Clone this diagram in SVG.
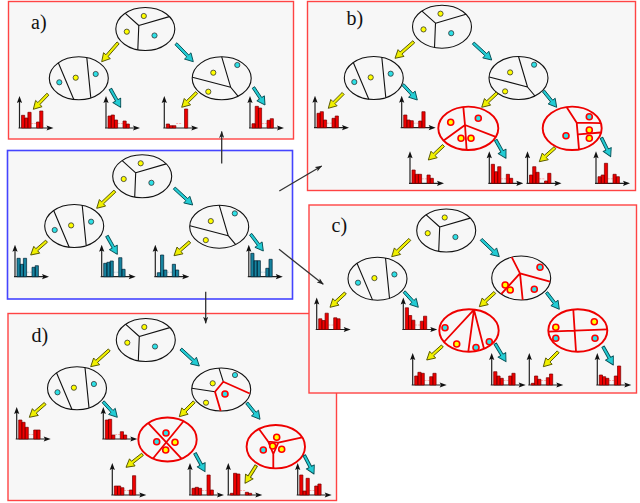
<svg xmlns="http://www.w3.org/2000/svg" xmlns:xlink="http://www.w3.org/1999/xlink" width="640" height="503" viewBox="0 0 640 503">
<style>
.pn{fill:#f7f7f7;stroke:#f44;stroke-width:1.4}
.pb{stroke:#44f;stroke-width:1.6}
.lbl{font-family:"Liberation Serif",serif;font-size:20px;fill:#111}
.el{fill:none;stroke:#111;stroke-width:1.1}
.er{fill:none;stroke:#e00;stroke-width:1.9}
.ln{fill:none;stroke:#111;stroke-width:1.1}
.lr{fill:none;stroke:#e00;stroke-width:1.8;stroke-linejoin:round}
.dy{fill:#ff0;stroke:#333;stroke-width:0.8}
.dc{fill:#2de0e6;stroke:#333;stroke-width:0.8}
.ry{fill:#ff0;stroke:#f00;stroke-width:1.6}
.rc{fill:#2de0e6;stroke:#f00;stroke-width:1.6}
.br{fill:#e00;stroke:#700;stroke-width:0.7}
.bb{fill:#16839f;stroke:#023;stroke-width:0.7}
.ax{fill:none;stroke:#222;stroke-width:1.2}
.ah{fill:#111}
.mr{stroke:#f99;stroke-width:0.8;stroke-dasharray:2 1}
.mb{stroke:#9cd;stroke-width:0.8;stroke-dasharray:2 1}
.aY{fill:#f0f000;stroke:#555500;stroke-width:0.9;stroke-linejoin:round}
.aC{fill:#22ccd4;stroke:#074f55;stroke-width:0.9;stroke-linejoin:round}
.cn{fill:none;stroke:#333;stroke-width:1.3}
</style>
<defs>
  <marker id="mk" viewBox="0 0 8 6" refX="7.5" refY="3" markerWidth="7" markerHeight="5.5" markerUnits="userSpaceOnUse" orient="auto">
    <path d="M0 0L8 3L0 6L2 3Z" fill="#222"/>
  </marker>
  <!-- fat tree arrows, tip at origin, pointing along +x -->
  <path id="ayl" class="aY" d="M0 0L-8-4.5L-8-1.4L-25-1.4L-25 1.4L-8 1.4L-8 4.5Z"/>
  <path id="acl" class="aC" d="M0 0L-8-4.5L-8-1.4L-25-1.4L-25 1.4L-8 1.4L-8 4.5Z"/>
  <path id="ays" class="aY" d="M0 0L-8-4.5L-8-1.4L-21-1.4L-21 1.4L-8 1.4L-8 4.5Z"/>
  <path id="acs" class="aC" d="M0 0L-8-4.5L-8-1.4L-21-1.4L-21 1.4L-8 1.4L-8 4.5Z"/>
  <!-- histogram axes -->
  <g id="axes">
    <path class="ax" d="M0 0V-27M-1 0H29"/>
    <path class="ah" d="M0-32L-2.6-25L0-26.3L2.6-25ZM34 0L27-2.6L28.3 0L27 2.6Z"/>
  </g>
  <g id="axR"><path class="mr" d="M11.8-4.5H17"/><use href="#axes"/></g>
  <g id="axB"><path class="mb" d="M11.8-4.5H17"/><use href="#axes"/></g>
  <!-- first-level nodes -->
  <g id="nRoot">
    <ellipse class="el" rx="29.5" ry="21.5"/>
    <path class="ln" d="M-6.5-3.5L-20-15.6M-6.5-3.5L24-12.4M-6.5-3.5L-7.5 20.8"/>
    <circle class="dy" cx="-1.5" cy="-13" r="2.6"/>
    <circle class="dy" cx="-18.5" cy="2.7" r="2.6"/>
    <circle class="dc" cx="9.2" cy="6.5" r="2.6"/>
  </g>
  <g id="nLeft">
    <ellipse class="el" rx="29.5" ry="21.5"/>
    <path class="ln" d="M-20.5-15.5L-5 21.2M8-20.7L12 19.6"/>
    <circle class="dc" cx="-19.5" cy="4" r="2.6"/>
    <circle class="dy" cx="-3.1" cy="-0.6" r="2.6"/>
    <circle class="dc" cx="16.9" cy="-4.3" r="2.6"/>
  </g>
  <g id="nRight">
    <ellipse class="el" rx="29.5" ry="21.5"/>
    <path class="ln" d="M-29.3-1L9 9M0-21.5L9 9L16.5 18"/>
    <circle class="dy" cx="-8.4" cy="-5.6" r="2.6"/>
    <circle class="dc" cx="15.6" cy="-13.3" r="2.6"/>
    <circle class="dy" cx="-13.4" cy="13.4" r="2.6"/>
  </g>
</defs>

<!-- panel a -->
<g id="panel-a">
  <rect class="pn" x="8.5" y="1.5" width="285" height="137.5"/>
  <text class="lbl" x="31" y="29">a)</text>
  <g transform="translate(145.3 29)">
    <g id="a-root"><use href="#nRoot"/></g>
    <g id="a-left" transform="translate(-66.5 49.3)"><use href="#nLeft"/></g>
    <g id="a-right" transform="translate(76.4 49.3)"><use href="#nRight"/></g>
    <g id="a-h1" transform="translate(-125.8 99)"><use href="#axR"/><path class="br" d="M2 0v-12.7h3.2v12.7zm3.2 0v-10h3.2v10zm3.2 0v-15.7h3.2v15.7zm8.6 0v-6h3.2v6zm3.2 0v-17h3.2v17z"/></g>
    <g id="a-h2" transform="translate(-39.3 99)"><use href="#axR"/><path class="br" d="M2 0v-12h3.2v12zm3.2 0v-13h3.2v13zm3.2 0v-8h3.2v8zm8.6 0v-7h3.2v7zm3.2 0v-4h3.2v4z"/></g>
    <g id="a-h3" transform="translate(19 99)"><use href="#axR"/><path class="br" d="M2 0v-4h3.2v4zm3.2 0v-2.3h3.2v2.3zm3.2 0v-2.3h3.2v2.3zm11.8 0v-19h3.2v19z"/></g>
    <g id="a-h4" transform="translate(104.7 99)"><use href="#axR"/><path class="br" d="M2 0v-4.3h3.2v4.3zm3.2 0v-21.7h3.2v21.7zm3.2 0v-20h3.2v20zm8.6 0v-7.7h3.2v7.7zm3.2 0v-9.3h3.2v9.3z"/></g>
    <g id="a-edges">
      <use href="#ayl" transform="translate(-43.6 32.7) rotate(131)"/>
      <use href="#acl" transform="translate(48 32.7) rotate(46)"/>
      <use href="#ays" transform="translate(-112 80.3) rotate(134)"/>
      <use href="#acs" transform="translate(-24.6 78.3) rotate(60.6)"/>
      <use href="#ays" transform="translate(36.4 78.3) rotate(135.6)"/>
      <use href="#acs" transform="translate(119.7 76) rotate(56.6)"/>
    </g>
  </g>
</g>

<!-- starting tree -->
<g id="panel-start">
  <rect class="pn pb" x="7.5" y="150.5" width="285" height="148.5"/>
  <g transform="translate(142.2 176.3)">
    <g id="s-root"><use href="#nRoot"/></g>
    <g id="s-left" transform="translate(-68 49.7)"><use href="#nLeft"/></g>
    <g id="s-right" transform="translate(77 50.4)"><use href="#nRight"/></g>
    <g id="s-h1" transform="translate(-127.2 100.4)"><use href="#axB"/><path class="bb" d="M2 0v-18.4h3.2v18.4zm3.2 0v-12.4h3.2v12.4zm3.2 0v-18.4h3.2v18.4zm8.6 0v-9.4h3.2v9.4zm3.2 0v-11h3.2v11z"/></g>
    <g id="s-h2" transform="translate(-40.5 100.4)"><use href="#axB"/><path class="bb" d="M2 0v-13.4h3.2v13.4zm3.2 0v-14.4h3.2v14.4zm3.2 0v-15.7h3.2v15.7zm8.6 0v-19h3.2v19zm3.2 0v-7.4h3.2v7.4z"/></g>
    <g id="s-h3" transform="translate(13.1 100.4)"><use href="#axB"/><path class="bb" d="M2 0v-4h3.2v4zm3.2 0v-21.7h3.2v21.7zm3.2 0v-6.7h3.2v6.7zm8.6 0v-12.4h3.2v12.4zm3.2 0v-6.7h3.2v6.7z"/></g>
    <g id="s-h4" transform="translate(106.6 100.4)"><use href="#axB"/><path class="bb" d="M2 0v-23.4h3.2v23.4zm3.2 0v-16h3.2v16zm3.2 0v-16h3.2v16zm8.6 0v-8.4h3.2v8.4zm3.2 0v-17.4h3.2v17.4z"/></g>
    <g id="s-edges">
      <use href="#ayl" transform="translate(-45.5 32) rotate(136.6)"/>
      <use href="#acl" transform="translate(50.5 28.7) rotate(42.5)"/>
      <use href="#ays" transform="translate(-111.5 78.7) rotate(139)"/>
      <use href="#acs" transform="translate(-24.9 78) rotate(60.5)"/>
      <use href="#ays" transform="translate(31.8 79.4) rotate(138.8)"/>
      <use href="#acs" transform="translate(121.1 74.7) rotate(53)"/>
    </g>
  </g>
</g>

<!-- panel b -->
<g id="panel-b">
  <rect class="pn" x="307.5" y="1.5" width="328" height="189"/>
  <text class="lbl" x="346.5" y="25">b)</text>
  <g transform="translate(442 26.7)">
    <g id="b-root"><use href="#nRoot"/></g>
    <g id="b-left" transform="translate(-68.2 51.3)"><use href="#nLeft"/></g>
    <g id="b-right" transform="translate(76.5 51.3)"><use href="#nRight"/></g>
    <g id="b-rl" transform="translate(26.3 101.6)">
      <ellipse class="er" rx="30" ry="21.7"/>
      <path class="lr" d="M-5-21.4L-3.3-3.3L-24.6 12.3M-3.3-3.3L27.5 8.6M-3.3-3.3L-1.7 21.6"/>
      <circle class="ry" cx="-17.6" cy="-6" r="3"/>
      <circle class="rc" cx="10" cy="-10" r="3"/>
      <circle class="ry" cx="-7.3" cy="10" r="3"/>
      <circle class="ry" cx="2.7" cy="10" r="3"/>
    </g>
    <g id="b-rr" transform="translate(130.2 101.6)">
      <ellipse class="er" rx="29.5" ry="21.7"/>
      <path class="lr" d="M-5.5-21L4.5-5.6L6.8 21M4.5-5.6L28.6-5.2M6.1 6L28.6 4.2"/>
      <circle class="rc" cx="17.1" cy="-11.6" r="3"/>
      <circle class="ry" cx="17.1" cy="1.7" r="3"/>
      <circle class="ry" cx="17.1" cy="10" r="3"/>
      <circle class="rc" cx="-6.2" cy="7.4" r="3"/>
    </g>
    <g id="b-h1" transform="translate(-127 101)"><use href="#axR"/><path class="br" d="M2 0v-14.4h3.2v14.4zm3.2 0v-16h3.2v16zm3.2 0v-7.7h3.2v7.7zm8.6 0v-9.4h3.2v9.4zm3.2 0v-11.7h3.2v11.7z"/></g>
    <g id="b-h2" transform="translate(-40.3 101)"><use href="#axR"/><path class="br" d="M2 0v-12.7h3.2v12.7zm3.2 0v-7.7h3.2v7.7zm3.2 0v-7h3.2v7zm8.6 0v-6.7h3.2v6.7zm3.2 0v-16h3.2v16z"/></g>
    <g id="b-h3" transform="translate(-32 156.6)"><use href="#axR"/><path class="br" d="M2 0v-13.3h3.2v13.3zm3.2 0v-9h3.2v9zm3.2 0v-9h3.2v9zm8.6 0v-8.3h3.2v8.3zm3.2 0v-5h3.2v5z"/></g>
    <g id="b-h4" transform="translate(47.3 156.6)"><use href="#axR"/><path class="br" d="M2 0v-19h3.2v19zm3.2 0v-11.6h3.2v11.6zm3.2 0v-16.6h3.2v16.6zm8.6 0v-9h3.2v9zm3.2 0v-5h3.2v5z"/></g>
    <g id="b-h5" transform="translate(85.5 156.6)"><use href="#axR"/><path class="br" d="M2 0v-8.3h3.2v8.3zm3.2 0v-16.6h3.2v16.6zm3.2 0v-11h3.2v11zm8.6 0v-2.3h3.2v2.3zm3.2 0v-10h3.2v10z"/></g>
    <g id="b-h6" transform="translate(154 156.6)"><use href="#axR"/><path class="br" d="M2 0v-6.6h3.2v6.6zm3.2 0v-8.3h3.2v8.3zm3.2 0v-20h3.2v20zm8.6 0v-9h3.2v9zm3.2 0v-6.6h3.2v6.6z"/></g>
    <g id="b-edges">
      <use href="#ayl" transform="translate(-47 31.6) rotate(138.7)"/>
      <use href="#acl" transform="translate(49.7 33.3) rotate(42.5)"/>
      <use href="#ays" transform="translate(-113.7 81.6) rotate(135)"/>
      <use href="#acs" transform="translate(-24.7 73.3) rotate(47)"/>
      <use href="#ays" transform="translate(39.7 80.6) rotate(137)"/>
      <use href="#acs" transform="translate(114.7 80.6) rotate(51)"/>
      <use href="#ays" transform="translate(-13.7 133.3) rotate(136.4)"/>
      <use href="#acs" transform="translate(64 131.6) rotate(60.7)"/>
      <use href="#ays" transform="translate(97.3 135) rotate(138.3)"/>
      <use href="#acs" transform="translate(168.7 130) rotate(63.9)"/>
    </g>
  </g>
</g>

<!-- panel d (drawn before c, which overlaps its corner) -->
<g id="panel-d">
  <rect class="pn" x="8" y="313.5" width="328.5" height="187"/>
  <text class="lbl" x="31.5" y="341.5">d)</text>
  <g transform="translate(145.8 340)">
    <g id="d-root"><use href="#nRoot"/></g>
    <g id="d-left" transform="translate(-68.8 48.3)"><use href="#nLeft"/></g>
    <g id="d-right" transform="translate(75.4 49.5)">
      <ellipse class="el" rx="29.5" ry="21.5"/>
      <path class="ln" d="M-2.2-21.4L2.1-7.8M-29.4-1.2L-6.2 2.2"/>
      <path class="lr" d="M28.5 4L2.1-7.8L-6.2 2.2L-0.5 21.5"/>
      <circle class="rc" cx="3.8" cy="4.5" r="3"/>
      <circle class="dc" cx="13.8" cy="-14.5" r="2.6"/>
      <circle class="dy" cx="-8.5" cy="-6.2" r="2.6"/>
      <circle class="dy" cx="-15.2" cy="13.2" r="2.6"/>
    </g>
    <g id="d-rl" transform="translate(21.7 99.5)">
      <ellipse class="er" rx="29.2" ry="22"/>
      <path class="lr" d="M-19.2-16.3L14 19.2M16-18.3L-14.5 19"/>
      <circle class="rc" cx="-1.5" cy="-6.5" r="3"/>
      <circle class="rc" cx="-10.8" cy="2.2" r="3"/>
      <circle class="ry" cx="7.5" cy="2.8" r="3"/>
      <circle class="ry" cx="-1.8" cy="10.5" r="3"/>
    </g>
    <g id="d-rr" transform="translate(130 106.7)">
      <ellipse class="er" rx="29.2" ry="21.7"/>
      <path class="lr" d="M-16.8-17.7L-7.5-5L2.5-4L26.5-9.3M2.5-4L-2.5 7.3L-7.5-5M-2.5 7.3L-2.5 21.6"/>
      <circle class="ry" cx="0.9" cy="-9.4" r="3"/>
      <circle class="ry" cx="-3.1" cy="-0.7" r="3"/>
      <circle class="ry" cx="5.9" cy="2.6" r="3"/>
      <circle class="rc" cx="-12.5" cy="3.3" r="3"/>
    </g>
    <g id="d-h1" transform="translate(-129.1 99)"><use href="#axR"/><path class="br" d="M2 0v-19h3.2v19zm3.2 0v-16.7h3.2v16.7zm3.2 0v-11.7h3.2v11.7zm8.6 0v-9h3.2v9zm3.2 0v-9h3.2v9z"/></g>
    <g id="d-h2" transform="translate(-42.5 99)"><use href="#axR"/><path class="br" d="M2 0v-19h3.2v19zm3.2 0v-19.7h3.2v19.7zm3.2 0v-4h3.2v4zm8.6 0v-7.3h3.2v7.3zm3.2 0v-4h3.2v4z"/></g>
    <g id="d-h3" transform="translate(-33.5 155)"><use href="#axR"/><path class="br" d="M2 0v-9h3.2v9zm3.2 0v-9h3.2v9zm3.2 0v-7.3h3.2v7.3zm8.6 0v-5h3.2v5zm3.2 0v-19.3h3.2v19.3z"/></g>
    <g id="d-h4" transform="translate(44.2 155)"><use href="#axR"/><path class="br" d="M2 0v-6.7h3.2v6.7zm3.2 0v-7.7h3.2v7.7zm3.2 0v-6.7h3.2v6.7zm8.6 0v-20h3.2v20zm3.2 0v-5h3.2v5z"/></g>
    <g id="d-h5" transform="translate(82.5 155)"><use href="#axR"/><path class="br" d="M2 0v-1.7h3.2v1.7zm3.2 0v-21.7h3.2v21.7zm3.2 0v-21h3.2v21zm8.6 0v-2.7h3.2v2.7zm3.2 0v-1.7h3.2v1.7z"/></g>
    <g id="d-h6" transform="translate(151.9 155)"><use href="#axR"/><path class="br" d="M2 0v-20h3.2v20zm3.2 0v-4h3.2v4zm3.2 0v-16.7h3.2v16.7zm8.6 0v-9h3.2v9zm3.2 0v-11h3.2v11z"/></g>
    <g id="d-edges">
      <use href="#ayl" transform="translate(-55.1 26.7) rotate(138)"/>
      <use href="#acl" transform="translate(53.5 26) rotate(42.5)"/>
      <use href="#ays" transform="translate(-116.5 77.3) rotate(139)"/>
      <use href="#acs" transform="translate(-28.5 77.3) rotate(47.7)"/>
      <use href="#ays" transform="translate(33.5 76.7) rotate(135)"/>
      <use href="#acs" transform="translate(114.2 79.3) rotate(51.3)"/>
      <use href="#ays" transform="translate(-19.8 127.3) rotate(141.9)"/>
      <use href="#acs" transform="translate(59.2 131.7) rotate(61.5)"/>
      <use href="#ays" transform="translate(99.2 143.3) rotate(122.4)"/>
      <use href="#acs" transform="translate(168.2 134) rotate(62.5)"/>
    </g>
  </g>
</g>

<!-- panel c -->
<g id="panel-c">
  <rect class="pn" x="309" y="205" width="327.5" height="188"/>
  <text class="lbl" x="331.5" y="231.5">c)</text>
  <g transform="translate(446.2 230.5)">
    <g id="c-root"><use href="#nRoot"/></g>
    <g id="c-left" transform="translate(-68.7 48.2)"><use href="#nLeft"/></g>
    <g id="c-right" transform="translate(75 47.5)">
      <ellipse class="el" rx="29.5" ry="22"/>
      <path class="lr" d="M-9.5-20.8L-1.2-4.7L28.8 3.7M-1.2-4.7L1.5 21.8M-1.2-4.7L-20 16.2"/>
      <circle class="ry" cx="-16" cy="7" r="3"/>
      <circle class="ry" cx="-11" cy="12" r="3"/>
      <circle class="rc" cx="18.8" cy="-10.7" r="3"/>
      <circle class="rc" cx="13.1" cy="11.3" r="3"/>
    </g>
    <g id="c-rl" transform="translate(22.8 100)">
      <ellipse class="er" rx="29.7" ry="21.2"/>
      <path class="lr" d="M5-20.8L-25 11.5M5-20.8L-0.7 21.2M5-20.8L15 18.3"/>
      <circle class="rc" cx="-24" cy="-2.8" r="3"/>
      <circle class="ry" cx="-12.3" cy="13.5" r="3"/>
      <circle class="rc" cx="7" cy="17" r="3"/>
      <circle class="rc" cx="20.3" cy="11.2" r="3"/>
    </g>
    <g id="c-rr" transform="translate(131.6 100)">
      <ellipse class="er" rx="29.5" ry="21.2"/>
      <path class="lr" d="M-4.5-20.8L-1.8 21M-29.5 1.2L29.5-1.2"/>
      <circle class="ry" cx="-22" cy="-3.2" r="3"/>
      <circle class="rc" cx="-22" cy="7.8" r="3"/>
      <circle class="ry" cx="16.5" cy="-8.8" r="3"/>
      <circle class="rc" cx="17.2" cy="7.8" r="3"/>
    </g>
    <g id="c-h1" transform="translate(-129.5 99)"><use href="#axR"/><path class="br" d="M2 0v-10.7h3.2v10.7zm3.2 0v-9h3.2v9zm3.2 0v-16.3h3.2v16.3zm8.6 0v-11.7h3.2v11.7zm3.2 0v-10.7h3.2v10.7z"/></g>
    <g id="c-h2" transform="translate(-42.9 99)"><use href="#axR"/><path class="br" d="M2 0v-21.7h3.2v21.7zm3.2 0v-14h3.2v14zm3.2 0v-9.3h3.2v9.3zm8.6 0v-8.3h3.2v8.3zm3.2 0v-13.3h3.2v13.3z"/></g>
    <g id="c-h3" transform="translate(-33.5 154.5)"><use href="#axR"/><path class="br" d="M2 0v-9h3.2v9zm3.2 0v-12.7h3.2v12.7zm3.2 0v-11.7h3.2v11.7zm8.6 0v-8.3h3.2v8.3zm3.2 0v-11.7h3.2v11.7z"/></g>
    <g id="c-h4" transform="translate(45.5 154.5)"><use href="#axR"/><path class="br" d="M2 0v-13.3h3.2v13.3zm3.2 0v-9h3.2v9zm3.2 0v-6.7h3.2v6.7zm8.6 0v-9h3.2v9zm3.2 0v-11.7h3.2v11.7z"/></g>
    <g id="c-h5" transform="translate(83.1 154.5)"><use href="#axR"/><path class="br" d="M2 0v-1.7h3.2v1.7zm3.2 0v-9h3.2v9zm3.2 0v-5.7h3.2v5.7zm8.6 0v-7.3h3.2v7.3zm3.2 0v-11h3.2v11z"/></g>
    <g id="c-h6" transform="translate(151.1 154.5)"><use href="#axR"/><path class="br" d="M2 0v-10h3.2v10zm3.2 0v-8.3h3.2v8.3zm3.2 0v-6.7h3.2v6.7zm8.6 0v-9h3.2v9zm3.2 0v-19h3.2v19z"/></g>
    <g id="c-edges">
      <use href="#ayl" transform="translate(-54.5 26.2) rotate(136.4)"/>
      <use href="#acl" transform="translate(53.1 26.2) rotate(43.6)"/>
      <use href="#ays" transform="translate(-116.2 76.8) rotate(137)"/>
      <use href="#acs" transform="translate(-27.9 76.8) rotate(47.7)"/>
      <use href="#ays" transform="translate(33.1 76.2) rotate(137.6)"/>
      <use href="#acs" transform="translate(113.1 78.8) rotate(52.8)"/>
      <use href="#ays" transform="translate(-19.5 129.5) rotate(138.2)"/>
      <use href="#acs" transform="translate(59.8 131.2) rotate(59.1)"/>
      <use href="#ays" transform="translate(97.1 136.2) rotate(135)"/>
      <use href="#acs" transform="translate(167.1 134.5) rotate(60.8)"/>
    </g>
  </g>
</g>

<!-- links from the starting tree to its variants -->
<g id="connectors" class="cn">
  <line x1="221.7" y1="163.5" x2="221.7" y2="131.5" marker-end="url(#mk)"/>
  <line x1="279.3" y1="191" x2="321.7" y2="166" marker-end="url(#mk)"/>
  <line x1="279" y1="249.3" x2="323.3" y2="284.3" marker-end="url(#mk)"/>
  <line x1="205.7" y1="291.7" x2="205.7" y2="323.3" marker-end="url(#mk)"/>
</g>
</svg>
